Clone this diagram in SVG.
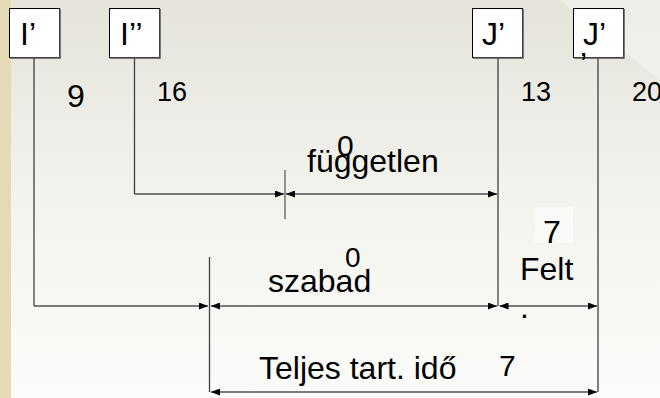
<svg xmlns="http://www.w3.org/2000/svg" width="660" height="398" viewBox="0 0 660 398">
<defs>
<linearGradient id="bg" x1="0" y1="0" x2="0" y2="1">
<stop offset="0" stop-color="#e5e3da"/>
<stop offset="0.5" stop-color="#f3f3ee"/>
<stop offset="1" stop-color="#fbfbf9"/>
</linearGradient>
<marker id="ah" viewBox="0 0 9 7" refX="9" refY="3.5" markerWidth="9" markerHeight="7" markerUnits="userSpaceOnUse" orient="auto-start-reverse">
<path d="M0,0 L9,3.5 L0,7 z" fill="#000"/>
</marker>
<style>
.box{fill:#fff;stroke:#000;stroke-width:1}
.shadow{fill:none;stroke:#555;stroke-width:1.5}
.ln{fill:none;stroke:#404040;stroke-width:1.3}
.hl{fill:none;stroke:#000;stroke-width:1.2}
.t{font-family:"Liberation Sans",Arial,sans-serif;fill:#000}
.big{font-size:32px}
.mid{font-size:27px}
</style>
</defs>
<rect x="0" y="0" width="660" height="398" fill="url(#bg)"/>
<polygon points="560,0 660,0 660,80" fill="#ffffff" opacity="0.35"/>
<rect x="0" y="0" width="11" height="398" fill="#e4dab6"/>

<g id="connectors">
<path class="ln" d="M34,58 V306"/>
<path class="ln" d="M134.5,58 V194"/>
<path class="ln" d="M498,58 V306"/>
<path class="ln" d="M598,58 V392"/>
<path class="ln" d="M209.5,257 V392"/>
<path d="M285,170 V219" stroke="#707070" stroke-width="1.5"/>
<path class="hl" d="M134.5,194 H284" marker-end="url(#ah)"/>
<path class="hl" d="M286,194 H497" marker-start="url(#ah)" marker-end="url(#ah)"/>
<path class="hl" d="M34,306 H208" marker-end="url(#ah)" stroke="#404040"/>
<path class="hl" d="M211,306 H497" marker-start="url(#ah)" marker-end="url(#ah)" stroke="#404040"/>
<path class="hl" d="M499.5,306 H597" marker-start="url(#ah)" marker-end="url(#ah)" stroke="#404040"/>
<path class="hl" d="M211,392 H597" marker-start="url(#ah)" marker-end="url(#ah)" stroke="#404040"/>
</g>

<g id="node-I1">
<rect class="box" x="9.5" y="8.5" width="50" height="49"/>
<path class="shadow" d="M60,9 V58 H10"/>
<text class="t big" x="20" y="45">I’</text>
</g>
<g id="node-I2">
<rect class="box" x="109.5" y="8.5" width="50" height="49"/>
<path class="shadow" d="M160,9 V58 H110"/>
<text class="t big" x="120" y="45">I’’</text>
</g>
<g id="node-J1">
<rect class="box" x="472.5" y="8.5" width="50" height="49"/>
<path class="shadow" d="M523,9 V58 H473"/>
<text class="t big" x="482" y="45">J’</text>
</g>
<g id="node-J2">
<rect class="box" x="573.5" y="8.5" width="50" height="49"/>
<path class="shadow" d="M624,9 V58 H574"/>
<text class="t big" x="583" y="45">J’</text>
<text class="t big" x="580" y="75">’</text>
</g>

<g id="labels">
<text class="t big" x="67" y="107">9</text>
<text class="t mid" x="157" y="101">16</text>
<text class="t mid" x="521" y="101">13</text>
<text class="t mid" x="632" y="101">20</text>
<text class="t" font-size="30" x="337" y="156">0</text>
<text class="t big" x="307" y="172">független</text>
<text class="t" font-size="28" x="345" y="267">0</text>
<text class="t big" x="268" y="292">szabad</text>
<rect x="535" y="207" width="38" height="36" fill="#ffffff" opacity="0.5"/>
<text class="t big" x="543" y="243">7</text>
<text class="t big" x="520" y="280">Felt</text>
<text class="t big" x="520" y="318">.</text>
<text class="t big" x="259" y="379">Teljes tart. idő</text>
<text class="t" font-size="30" x="499" y="376">7</text>
</g>
</svg>
